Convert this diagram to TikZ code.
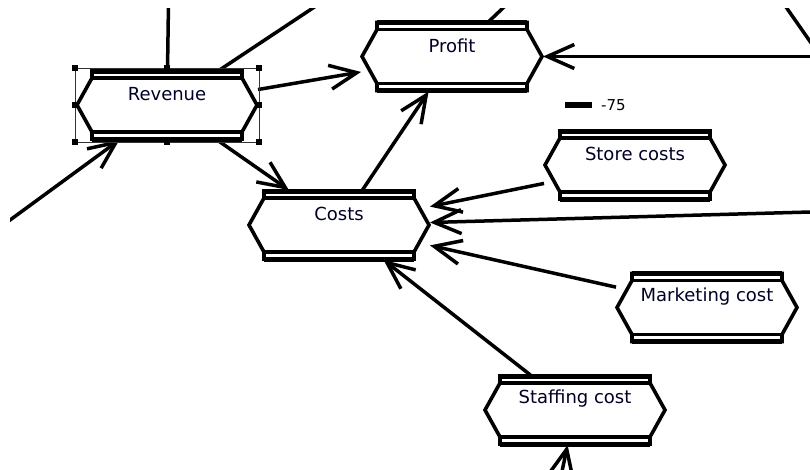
\documentclass[tikz,border=0pt]{standalone}
\usepackage{fontspec}
\setmainfont{DejaVu Sans}
\usetikzlibrary{arrows.meta,calc}

\tikzset{
  box/.style={rectangle, minimum width=182pt, minimum height=70pt,
              inner sep=0pt, outer sep=0pt},
  boxtext/.style={font=\fontsize{18}{20}\selectfont, text=black!85!blue, inner sep=0pt},
  hexline/.style={line width=3.6pt, line join=miter},
  hexbar/.style={line width=5pt},
  edge/.style={line width=3.5pt},
  arrowedge/.style={edge, -{Straight Barb[length=27pt,width=24pt]}},
  handle/.style={fill=black, minimum size=6pt, inner sep=0pt, outer sep=0pt},
}

% hexagonal variable symbol with double bars, drawn around a named node
\newcommand\hexoutline[1]{%
  \begin{scope}[shift={(#1.center)}]
    \fill[white] (-75,-34) -- (75,-34) -- (75,-27) -- (90,0) -- (75,27) -- (75,34)
      -- (-75,34) -- (-75,27) -- (-90,0) -- (-75,-27) -- cycle;
    \draw[hexline] (-75,-34) -- (75,-34) -- (75,-27) -- (90,0) -- (75,27) -- (75,34)
      -- (-75,34) -- (-75,27) -- (-90,0) -- (-75,-27) -- cycle;
    \draw[hexbar] (-75,-34) -- (75,-34) (-75,34) -- (75,34);
    \draw[hexline] (-75,-27) -- (75,-27) (-75,27) -- (75,27);
  \end{scope}}

\begin{document}
\begin{tikzpicture}[x=1pt, y=-1pt]
  \useasboundingbox (0,0) rectangle (810,469);
  \fill[white] (0,0) rectangle (810,469);

  % variables
  \node[box] (profit)    at (452,56.5) {};
  \node[box] (revenue)   at (167,105)  {};
  \node[box] (costs)     at (339,225)  {};
  \node[box] (store)     at (635,165)  {};
  \node[box] (marketing) at (707,307.5) {};
  \node[box] (staffing)  at (575,410)  {};

  \foreach \n in {profit,revenue,costs,store,marketing,staffing}
    \hexoutline{\n};

  \node[boxtext] (profit-t)    at ([yshift=11pt]profit.center)    {Profit};
  \node[boxtext] (revenue-t)   at ([yshift=11pt]revenue.center)   {Revenue};
  \node[boxtext] (costs-t)     at ([yshift=11pt]costs.center)     {Costs};
  \node[boxtext] (store-t)     at ([yshift=11pt]store.center)     {Store costs};
  \node[boxtext] (marketing-t) at ([yshift=11pt]marketing.center) {Marketing cost};
  \node[boxtext] (staffing-t)  at ([yshift=11pt]staffing.center)  {Staffing cost};

  % value indicator
  \fill (565,102) rectangle (592,108);
  \node[anchor=west, inner sep=0pt, font=\fontsize{15}{17}\selectfont] (value) at (601,105) {-75};

  % ends of links leading out of view
  \coordinate (revup)      at (170,-100);
  \coordinate (revur)      at (459,-89);
  \coordinate (revleft)    at (-68.5,277.5);
  \coordinate (profright)  at (1000,56.5);
  \coordinate (profur)     at (554,-40.5);
  \coordinate (costsright) at (1100,204);
  \coordinate (staffbelow) at (554,509);
  \coordinate (trA)        at (772.7,-12);
  \coordinate (trB)        at (830,70);

  \begin{scope}
    \clip (10,8) rectangle (810,469);
    \draw[edge] (revenue) -- (revup);
    \draw[edge] (revenue) -- (revur);
    \draw[edge] (profit) -- (profur);
    \draw[edge] (trA) -- (trB);
    \draw[arrowedge] (revleft) -- (revenue);
    \draw[arrowedge] (revenue) -- (profit);
    \draw[arrowedge] (revenue) -- (costs);
    \draw[arrowedge] (costs) -- (profit);
    \draw[arrowedge] (profright) -- (profit);
    \draw[arrowedge] (store) -- (costs);
    \draw[arrowedge] (costsright) -- (costs);
    \draw[arrowedge] (marketing) -- (costs);
    \draw[arrowedge] (staffing) -- (costs);
    \draw[arrowedge] (staffbelow) -- (staffing);
  \end{scope}

  % selection frame with handles
  \draw[line width=0.8pt, black!80] (75,68) rectangle (259,142);
  \foreach \x/\y/\k in {75/68/a,167/68/b,259/68/c,75/105/d,259/105/e,75/142/f,167/142/g,259/142/h}
    \node[handle] (handle-\k) at (\x,\y) {};
\end{tikzpicture}
\end{document}
